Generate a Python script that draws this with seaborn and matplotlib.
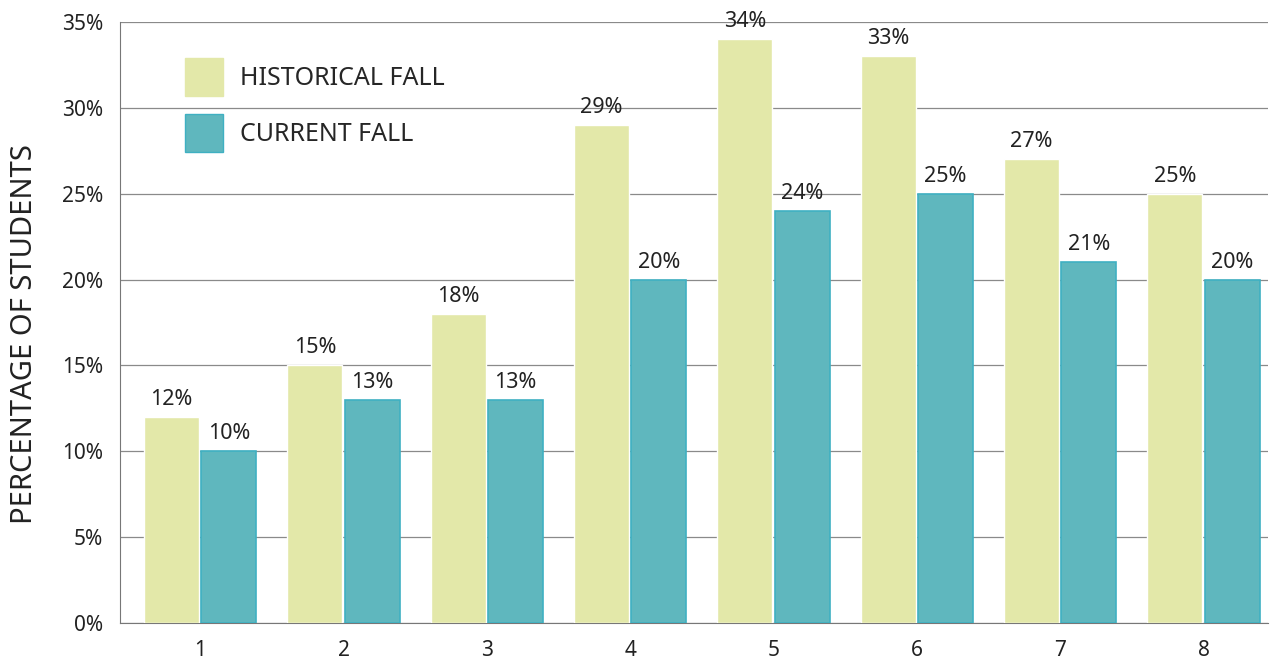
import pandas as pd
import seaborn as sns
import matplotlib.pyplot as plt
from matplotlib.patches import Patch
from matplotlib.ticker import FuncFormatter

# Datos del grafico
grupos = ["1", "2", "3", "4", "5", "6", "7", "8"]
historico = [12, 15, 18, 29, 34, 33, 27, 25]
actual = [10, 13, 13, 20, 24, 25, 21, 20]
series = ["HISTORICAL FALL", "CURRENT FALL"]
colores = ["#e3e8a9", "#5fb7be"]

df = pd.DataFrame({
    "grupo": grupos * 2,
    "valor": historico + actual,
    "serie": [series[0]] * len(grupos) + [series[1]] * len(grupos),
})

sns.set_style("white")
plt.rcParams["font.family"] = ["Noto Sans", "DejaVu Sans"]

fig = plt.figure(figsize=(12.74, 6.6), dpi=100)
ax = fig.add_axes([0.0942, 0.056, 0.9011, 0.9107])

sns.barplot(data=df, x="grupo", y="valor", hue="serie", palette=colores,
            saturation=1, width=0.8, gap=0.04, legend=False, ax=ax, zorder=3)

# borde del segundo grupo de barras
for barra in ax.containers[1]:
    barra.set_edgecolor("#3fb0c2")
    barra.set_linewidth(1.2)

for cont in ax.containers:
    ax.bar_label(cont, fmt="%d%%", padding=5, fontsize=15.5, color="#222222")

ax.set_ylim(0, 35)
ax.set_xlim(-0.56, 7.45)
ax.set_yticks(range(0, 36, 5))
ax.yaxis.set_major_formatter(FuncFormatter(lambda v, p: f"{int(v)}%"))
ax.tick_params(axis="both", labelsize=15, colors="#222222", length=0)
ax.tick_params(axis="x", pad=12)
ax.tick_params(axis="y", pad=12)
ax.set_xlabel("")
ax.set_ylabel("PERCENTAGE OF STUDENTS", fontsize=21, color="#222222")
ax.yaxis.set_label_coords(-0.071, 0.48)

ax.grid(axis="y", color="#8a8a8a", linewidth=0.9, zorder=0)
ax.set_axisbelow(True)
for lado in ["top", "right"]:
    ax.spines[lado].set_visible(False)
ax.spines["left"].set_color("#777777")
ax.spines["bottom"].set_color("#777777")

manejadores = [Patch(facecolor=colores[0], edgecolor=colores[0]),
               Patch(facecolor=colores[1], edgecolor="#3fb0c2")]
ax.legend(manejadores, series, loc="upper left", bbox_to_anchor=(0.057, 0.94),
          frameon=False, fontsize=18, handlelength=1.52, handleheight=1.96,
          labelspacing=0.72, handletextpad=0.68, borderpad=0, borderaxespad=0)

fig.savefig("out.png", dpi=100)
